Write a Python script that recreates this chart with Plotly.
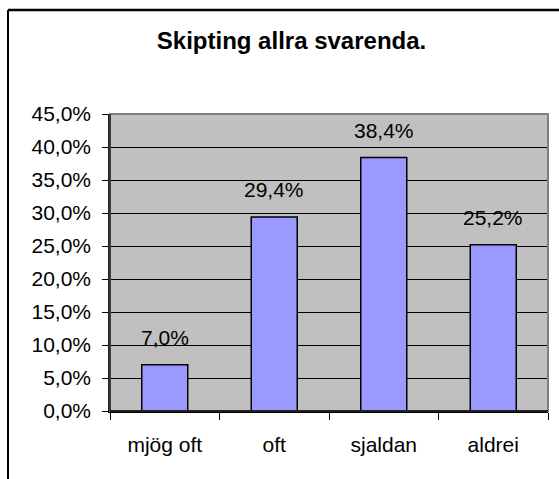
import plotly.graph_objects as go

categories = ["mjög oft", "oft", "sjaldan", "aldrei"]
values = [7.0, 29.4, 38.4, 25.2]
tick_vals = [0, 5, 10, 15, 20, 25, 30, 35, 40, 45]
tick_text = ["0,0%", "5,0%", "10,0%", "15,0%", "20,0%", "25,0%", "30,0%", "35,0%", "40,0%", "45,0%"]
label_text = [f"{v:.1f}%".replace(".", ",") for v in values]
title_text = "Skipting allra svarenda."

FONT = "Liberation Sans, Arial, sans-serif"

fig = go.Figure()
fig.add_trace(go.Bar(
    x=categories, y=values, width=0.42,
    marker=dict(color="#9999FF", line=dict(color="black", width=1.5)),
    hoverinfo="skip",
))

for c, v, t in zip(categories, values, label_text):
    fig.add_annotation(x=c, y=v, text=t, showarrow=False, yanchor="bottom",
                       yshift=14, font=dict(size=21, color="black", family=FONT))

fig.update_layout(
    width=559, height=479,
    margin=dict(l=110, r=11, t=114, b=68),
    paper_bgcolor="white", plot_bgcolor="#C0C0C0",
    showlegend=False,
    font=dict(family=FONT, size=21, color="black"),
    title=dict(text=f"<b>{title_text}</b>", x=291.5 / 559, xanchor="center",
               y=1 - 41 / 479, yanchor="middle",
               font=dict(size=24, family=FONT, color="black")),
    bargap=0.58,
)
fig.update_yaxes(
    range=[0, 45], tickvals=tick_vals, ticktext=tick_text,
    showgrid=True, gridcolor="black", gridwidth=1,
    showline=True, linecolor="#202020", linewidth=1.5,
    ticks="outside", ticklen=6, tickcolor="black", ticklabelstandoff=7,
    zeroline=False, fixedrange=True,
)
fig.update_xaxes(
    showline=True, linecolor="black", linewidth=1.5,
    ticks="outside", ticklen=7, tickcolor="black", tickson="boundaries",
    ticklabelstandoff=14, showgrid=False, fixedrange=True,
    tickfont=dict(size=21),
)

# plot area border (top/right gray)
fig.add_shape(type="rect", xref="paper", yref="paper", x0=0, x1=1, y0=0, y1=1,
              line=dict(color="#808080", width=2), layer="above")
fig.add_shape(type="line", xref="paper", yref="paper", x0=0, x1=0, y0=0, y1=1,
              line=dict(color="#202020", width=1.5), layer="above")
fig.add_shape(type="line", xref="paper", yref="paper", x0=0, x1=1, y0=0, y1=0,
              line=dict(color="black", width=1.5), layer="above")
# outer chart frame (top and left visible)
fig.add_shape(type="line", xref="paper", yref="paper",
              x0=(8 - 110) / 438, x1=(565 - 110) / 438,
              y0=(411 - 10) / 297, y1=(411 - 10) / 297,
              line=dict(color="black", width=2.5))
fig.add_shape(type="line", xref="paper", yref="paper",
              x0=(8 - 110) / 438, x1=(8 - 110) / 438,
              y0=(411 - 10) / 297, y1=(411 - 485) / 297,
              line=dict(color="black", width=2))

fig.write_html("out.html", config={"displayModeBar": False})

with open("out.html", "r", encoding="utf-8") as f:
    html = f.read()
html = html.replace("<head>", "<head><style>html,body{margin:0;padding:0;overflow:hidden;}</style>", 1)
with open("out.html", "w", encoding="utf-8") as f:
    f.write(html)
